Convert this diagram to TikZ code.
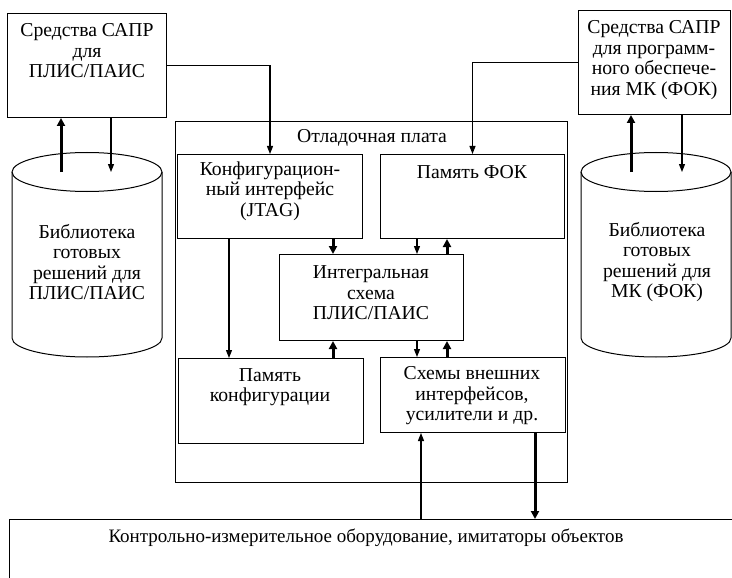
\documentclass[tikz,border=0pt]{standalone}
\usepackage{fontspec}
\setmainfont{Liberation Serif}
\usetikzlibrary{arrows.meta}
\begin{document}
\begin{tikzpicture}[x=1pt,y=-1pt,
  box/.style={draw, line width=1pt, anchor=north west, inner sep=0pt},
  txt/.style={align=center, inner sep=0pt, font=\fontsize{19.7}{20.5}\selectfont},
  thinarr/.style={line width=1.3pt, -{Triangle[length=8pt,width=6pt]}},
  thickarr/.style={line width=3pt, -{Triangle[length=8pt,width=8pt]}},
  cyl/.style={line width=1pt}]
\useasboundingbox (0,0) rectangle (732,578);
\clip (0,0) rectangle (732,578);

% top boxes
\node[box, minimum width=159pt, minimum height=104pt] (tl) at (7,13) {};
\node[txt] (tltxt) at (87,51) {Средства САПР\\для\\ПЛИС/ПАИС};
\node[box, minimum width=152pt, minimum height=104pt] (tr) at (578,10) {};
\node[txt] (trtxt) at (654,60) {Средства САПР\\для программ-\\ного обеспече-\\ния МК (ФОК)};

% board
\node[box, minimum width=392pt, minimum height=361pt] (board) at (175,121) {};
\node[txt] (boardtxt) at (372,138) {Отладочная плата};
\node[box, minimum width=185pt, minimum height=84pt] (cfg) at (177,154) {};
\node[txt] (cfgtxt) at (270,191) {Конфигурацион-\\ный интерфейс\\(JTAG)};
\node[box, minimum width=184pt, minimum height=84pt] (fok) at (380,154) {};
\node[txt] (foktxt) at (472,172) {Память ФОК};
\node[box, minimum width=184pt, minimum height=86pt] (ic) at (279,254) {};
\node[txt] (ictxt) at (371,293) {Интегральная\\схема\\ПЛИС/ПАИС};
\node[box, minimum width=185pt, minimum height=85pt] (pk) at (178,358) {};
\node[txt] (pktxt) at (270,387) {Память\\конфигурации};
\node[box, minimum width=185pt, minimum height=75pt] (sx) at (380,357) {};
\node[txt] (sxtxt) at (472,396) {Схемы внешних\\интерфейсов,\\усилители и др.};

% bottom box
\node[box, minimum width=740pt, minimum height=80pt] (bot) at (9,519) {};
\node[txt, font=\fontsize{19}{20.5}\selectfont] (bottxt) at (366,538) {Контрольно-измерительное оборудование, имитаторы объектов};

% cylinders
\draw[cyl] (12,172) -- (12,338) arc[start angle=180, end angle=360, x radius=75pt, y radius=19pt] -- (162,172);
\draw[cyl] (87,172) ellipse [x radius=75pt, y radius=19.5pt];
\node[txt] (cyltxtL) at (87,262) {Библиотека\\готовых\\решений для\\ПЛИС/ПАИС};
\draw[cyl] (581,172) -- (581,338) arc[start angle=180, end angle=360, x radius=75pt, y radius=19pt] -- (731,172);
\draw[cyl] (656,172) ellipse [x radius=75pt, y radius=19.5pt];
\node[txt] (cyltxtR) at (657,262) {Библиотека\\готовых\\решений для\\МК (ФОК)};

% column coordinates
\coordinate (cLa) at (61,172);
\coordinate (cLb) at (111,172);
\coordinate (cRa) at (631,172);
\coordinate (cRb) at (682,172);
\coordinate (xa) at (229,0);
\coordinate (xb) at (333,0);
\coordinate (xc) at (417,0);
\coordinate (xd) at (447,0);
\coordinate (xe) at (421,0);
\coordinate (xf) at (535,0);

% connectors
\draw[thinarr] (tl.east) -| (cfg.north);
\draw[thinarr] (tr.west) -| (fok.north);
\draw[thickarr] (cLa) -- (cLa |- tl.south);
\draw[thinarr] (cLb |- tl.south) -- (cLb);
\draw[thickarr] (cRa) -- (cRa |- tr.south);
\draw[thinarr] (cRb |- tr.south) -- (cRb);

\draw[thickarr] (xb |- cfg.south) -- (xb |- ic.north);
\draw[thinarr] (xc |- fok.south) -- (xc |- ic.north);
\draw[thickarr] (xd |- ic.north) -- (xd |- fok.south);
\draw[thinarr] (xa |- cfg.south) -- (xa |- pk.north);
\draw[thickarr] (xb |- pk.north) -- (xb |- ic.south);
\draw[thinarr] (xc |- ic.south) -- (xc |- sx.north);
\draw[thickarr] (xd |- sx.north) -- (xd |- ic.south);
\draw[thinarr] (xe |- bot.north) -- (xe |- sx.south);
\draw[thickarr] (xf |- sx.south) -- (xf |- bot.north);
\end{tikzpicture}
\end{document}
